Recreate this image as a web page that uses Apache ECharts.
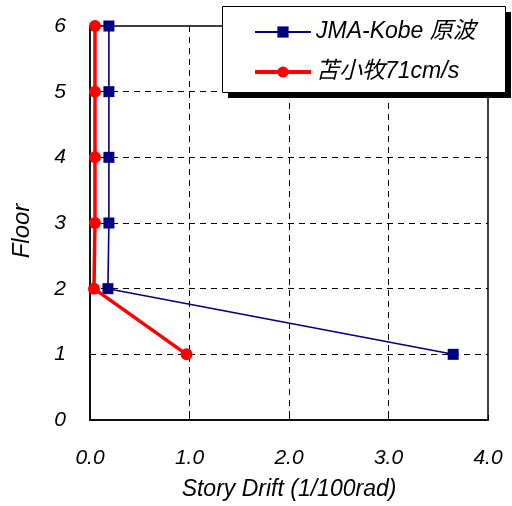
<!DOCTYPE html>
<html>
<head>
<meta charset="utf-8">
<script src="https://cdn.jsdelivr.net/npm/echarts@6/dist/echarts.min.js"></script>
<style>
  html, body { margin: 0; padding: 0; background: #fff; }
  #chart { width: 512px; height: 506px; }
</style>
</head>
<body>
<div id="chart"></div>
<script>
// Floors and peak story drift (1/100 rad) for each record
const floors = [1, 2, 3, 4, 5, 6];
const driftKobe = [3.65, 0.18, 0.19, 0.19, 0.19, 0.19];
const driftTomakomai = [0.97, 0.04, 0.05, 0.05, 0.05, 0.05];
const seriesNames = ['JMA-Kobe 原波', '苫小牧71cm/s'];
const xTicks = [0, 1, 2, 3, 4];
const yTicks = [0, 1, 2, 3, 4, 5, 6];

const FONT = '"Liberation Sans", Arial, "Noto Sans CJK JP", sans-serif';
const BLUE = '#000080';
const RED = '#ff0000';

const pairs = (xs) => xs.map((x, i) => [x, floors[i]]);

const chart = echarts.init(document.getElementById('chart'), null, { renderer: 'canvas' });

const dashed = { show: true, lineStyle: { color: '#000', type: [6, 5], width: 1 } };

chart.setOption({
  animation: false,
  backgroundColor: '#fff',
  grid: {
    left: 90, right: 24, top: 26, bottom: 83,
    show: true, borderColor: '#000', borderWidth: 1.5, backgroundColor: 'transparent'
  },
  // Legend frame with a hard drop shadow
  graphic: [
    { type: 'rect', left: 228, top: 12, z: 90,
      shape: { width: 283, height: 86 }, style: { fill: '#000' } },
    { type: 'rect', left: 222, top: 6, z: 91,
      shape: { width: 283, height: 86 }, style: { fill: '#fff', stroke: '#000', lineWidth: 1 } }
  ],
  xAxis: {
    type: 'value',
    min: xTicks[0], max: xTicks[xTicks.length - 1], interval: 1,
    name: 'Story Drift (1/100rad)',
    nameLocation: 'middle', nameGap: 58,
    nameTextStyle: { fontFamily: FONT, fontStyle: 'italic', fontSize: 23, color: '#000' },
    axisLine: { show: true, lineStyle: { color: '#000', width: 1.5 } },
    axisTick: { show: true, inside: true, length: 5, lineStyle: { color: '#000' } },
    axisLabel: {
      margin: 28, fontFamily: FONT, fontStyle: 'italic', fontSize: 21, color: '#000',
      formatter: (v) => v.toFixed(1)
    },
    splitLine: Object.assign({ showMinLine: false, showMaxLine: false }, dashed)
  },
  yAxis: {
    type: 'value',
    min: yTicks[0], max: yTicks[yTicks.length - 1], interval: 1,
    name: 'Floor',
    nameLocation: 'middle', nameGap: 56, nameRotate: 90,
    nameTextStyle: { fontFamily: FONT, fontStyle: 'italic', fontSize: 24, color: '#000', padding: [0, 16, 0, 0] },
    axisLine: { show: true, lineStyle: { color: '#000', width: 1.5 } },
    axisTick: { show: true, inside: true, length: 5, lineStyle: { color: '#000' } },
    axisLabel: { margin: 24, fontFamily: FONT, fontStyle: 'italic', fontSize: 21, color: '#000' },
    splitLine: Object.assign({ showMinLine: false, showMaxLine: false }, dashed)
  },
  legend: {
    orient: 'vertical',
    left: 253, top: 20,
    padding: 0,
    itemGap: 16,
    itemWidth: 56, itemHeight: 14,
    z: 95,
    textStyle: { fontFamily: FONT, fontStyle: 'italic', fontSize: 23, color: '#000', lineHeight: 24 },
    data: [
      { name: seriesNames[0], lineStyle: { width: 2, color: BLUE } },
      { name: seriesNames[1], lineStyle: { width: 4, color: RED } }
    ]
  },
  series: [
    {
      name: seriesNames[0],
      type: 'line',
      data: pairs(driftKobe),
      symbol: 'rect', symbolSize: 11,
      lineStyle: { color: BLUE, width: 1.6 },
      itemStyle: { color: BLUE },
      z: 3
    },
    {
      name: seriesNames[1],
      type: 'line',
      data: pairs(driftTomakomai),
      symbol: 'circle', symbolSize: 12,
      lineStyle: { color: RED, width: 3.5 },
      itemStyle: { color: RED },
      z: 4
    }
  ]
});
</script>
</body>
</html>
